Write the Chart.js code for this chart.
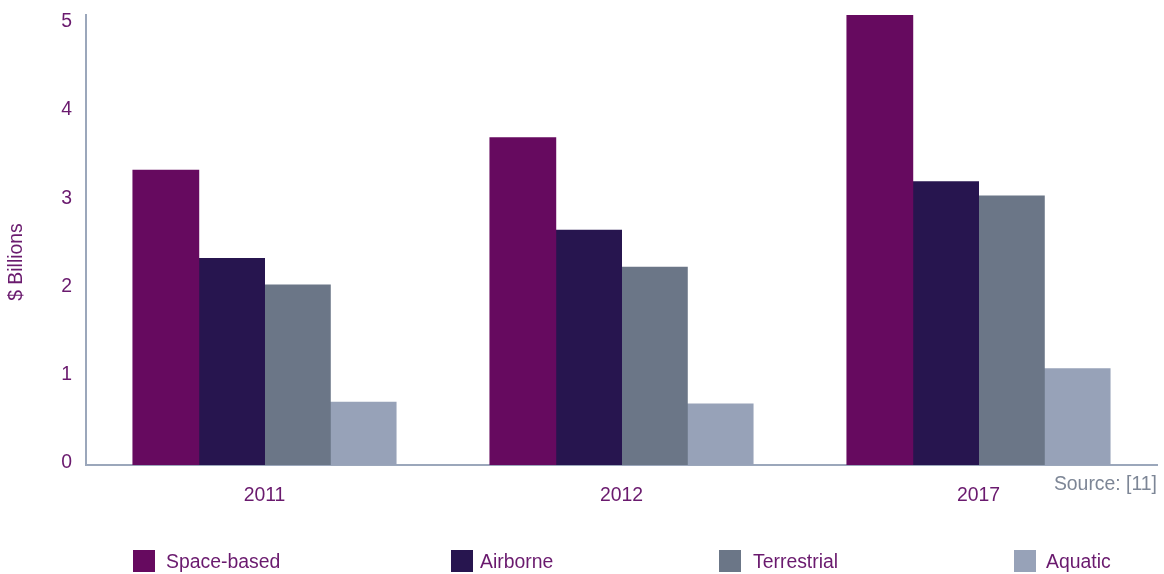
<!DOCTYPE html>
<html>
<head>
<meta charset="utf-8">
<script src="https://cdn.jsdelivr.net/npm/chart.js@4.4.1/dist/chart.umd.min.js"></script>
<style>
  html, body { margin: 0; padding: 0; background: #fff; }
  #wrap { width: 1164px; height: 574px; position: relative; }
</style>
</head>
<body>
<div id="wrap"><canvas id="chart"></canvas></div>
<script>
const years = ['2011', '2012', '2017'];
const spaceBased = [3.34, 3.71, 5.1];
const airborne = [2.34, 2.66, 3.21];
const terrestrial = [2.04, 2.24, 3.05];
const aquatic = [0.71, 0.69, 1.09];
const yTicks = [0, 1, 2, 3, 4, 5];

const purple = '#6a1a6e';
const axisColor = '#9ba7bb';
const font = "'Liberation Sans', Arial, sans-serif";
const fsize = 19.4;

const data = {
    labels: years,
    datasets: [
        { label: 'Space-based', data: spaceBased, backgroundColor: '#660a5f' },
        { label: 'Airborne', data: airborne, backgroundColor: '#27154f' },
        { label: 'Terrestrial', data: terrestrial, backgroundColor: '#6b7687' },
        { label: 'Aquatic', data: aquatic, backgroundColor: '#97a2b8' }
    ]
};

// y title, source note and the spaced-out legend at the bottom
const extras = {
    id: 'extras',
    afterDraw(chart) {
        const ctx = chart.ctx;
        ctx.save();
        ctx.font = fsize + 'px ' + font;
        ctx.fillStyle = purple;
        ctx.translate(17, 262);
        ctx.rotate(-Math.PI / 2);
        ctx.textAlign = 'center';
        ctx.textBaseline = 'middle';
        ctx.fillText('$ Billions', 0, 0);
        ctx.restore();

        ctx.save();
        ctx.font = fsize + 'px ' + font;
        ctx.fillStyle = '#7d8696';
        ctx.textAlign = 'right';
        ctx.textBaseline = 'middle';
        ctx.fillText('Source: [11]', chart.chartArea.right, 485);
        ctx.restore();

        const boxX = [133, 451, 719, 1014];
        const textX = [166, 480, 753, 1046];
        ctx.save();
        ctx.font = fsize + 'px ' + font;
        ctx.textBaseline = 'middle';
        chart.data.datasets.forEach((ds, i) => {
            ctx.fillStyle = ds.backgroundColor;
            ctx.fillRect(boxX[i], 550, 22, 22);
            ctx.fillStyle = purple;
            ctx.fillText(ds.label, textX[i], 563);
        });
        ctx.restore();
    }
};

const config = {
    type: 'bar',
    data,
    options: {
        responsive: true,
        maintainAspectRatio: false,
        animation: false,
        layout: {
            padding: { top: 15, right: 7, bottom: 0, left: 0 }
        },
        datasets: {
            bar: { categoryPercentage: 0.737, barPercentage: 1.0, inflateAmount: 0.5 }
        },
        plugins: {
            legend: { display: false },
            tooltip: { enabled: false }
        },
        scales: {
            x: {
                grid: { color: 'rgba(0,0,0,0)', drawTicks: false },
                border: { color: axisColor, width: 2 },
                ticks: { color: purple, font: { family: font, size: fsize }, padding: 19 },
                afterFit(scale) { scale.height = 109; scale.paddingLeft = 0; scale.paddingRight = 0; }
            },
            y: {
                min: 0,
                max: 5.1,
                grid: { color: 'rgba(0,0,0,0)', drawTicks: false },
                border: { color: axisColor, width: 2 },
                ticks: { color: purple, font: { family: font, size: fsize }, padding: 14, labelOffset: -2 },
                afterBuildTicks(scale) { scale.ticks = yTicks.map(v => ({ value: v })); },
                afterFit(scale) { scale.width = 86; scale.paddingTop = 0; scale.paddingBottom = 0; }
            }
        }
    },
    plugins: [extras]
};

var chart = document.getElementById('chart');
var myChart = new Chart(chart, config);
</script>
</body>
</html>
